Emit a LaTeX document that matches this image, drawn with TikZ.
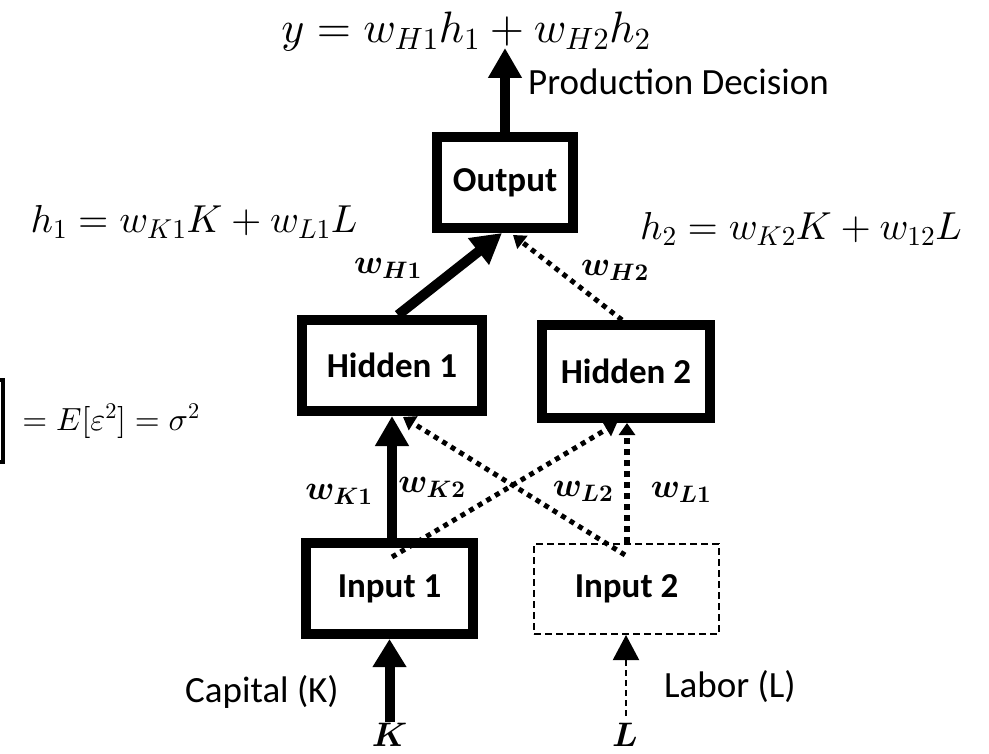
\documentclass[tikz,border=0pt]{standalone}
\usepackage{amsmath}
\usepackage{fontspec}
\DeclareFontShape{OML}{cmm}{m}{it}{<->cmmi10}{}
\DeclareFontShape{OML}{cmm}{b}{it}{<->cmmib10}{}
\DeclareFontShape{OT1}{cmr}{m}{n}{<->cmr10}{}
\DeclareFontShape{OT1}{cmr}{bx}{n}{<->cmbx10}{}
\DeclareFontShape{OMS}{cmsy}{m}{n}{<->cmsy10}{}
\DeclareFontShape{OMS}{cmsy}{b}{n}{<->cmbsy10}{}
\newfontfamily\calibri{Carlito}
\usetikzlibrary{arrows.meta,calc}
\tikzset{
  boxthick/.style={draw, line width=10pt, rectangle, inner sep=0pt,
    font=\calibri\bfseries\fontsize{35}{40}\selectfont},
  boxdash/.style={draw, line width=2pt, dash pattern=on 7pt off 4pt, rectangle, inner sep=0pt,
    font=\calibri\bfseries\fontsize{35}{40}\selectfont},
  solidarrow/.style={line width=10pt, -{Triangle[width=32pt,length=30pt]}},
  dotarrow/.style={line width=5pt, dash pattern=on 5pt off 5pt, -{Triangle[width=16pt,length=12pt]}},
  dasharrow/.style={line width=2pt, dash pattern=on 6pt off 4pt, -{Triangle[width=26pt,length=25pt]}},
  wlabel/.style={inner sep=0pt, font=\fontsize{34}{38}\selectfont},
  plainlabel/.style={inner sep=0pt, font=\calibri\fontsize{37}{42}\selectfont},
  eqlabel/.style={inner sep=0pt, font=\fontsize{39}{46}\selectfont},
}
\begin{document}
\begin{tikzpicture}[x=1pt,y=-1pt]
\useasboundingbox[fill=white] (0,0) rectangle (989,754);

% boxes
\node[boxthick, minimum width=136pt, minimum height=91pt] (Out) at (505,182.5) {Output};
\node[boxthick, minimum width=180pt, minimum height=91pt] (H1) at (392,365.5) {Hidden 1};
\node[boxthick, minimum width=168pt, minimum height=93pt] (H2) at (626,371.5) {Hidden 2};
\node[boxthick, minimum width=167pt, minimum height=91pt] (In1) at (389.5,588.5) {Input 1};
\node[boxdash, minimum width=185pt, minimum height=90pt] (In2) at (626.5,589) {Input 2};

% free ends
\coordinate (ytop) at (505,48);
\coordinate (Kbot) at (389.5,722);
\coordinate (Lbot) at (626,716);
\coordinate (K2start) at (392,557);
\coordinate (L2start) at (625,555);

% formulas
\node[inner sep=0pt, anchor=base, font=\fontsize{44}{50}\selectfont] (yeq) at (466,43) {$y = w_{H1}h_1 + w_{H2}h_2$};
\node[plainlabel, anchor=base west] (prod) at (528,95) {Production Decision};
\node[eqlabel, anchor=base] (h1eq) at (194,233) {$h_1 = w_{K1}K + w_{L1}L$};
\node[eqlabel, anchor=base] (h2eq) at (801,240) {$h_2 = w_{K2}K + w_{12}L$};
\node[inner sep=0pt, anchor=base, font=\fontsize{32}{38}\selectfont] (sig) at (111,430) {$= E[\varepsilon^2] = \sigma^2$};
\draw[line width=3.5pt] (-6,380) -- (3,380) -- (3,462) -- (-6,462);

% connectors
\draw[solidarrow] (Out.north) -- (ytop);
\draw[solidarrow] ($(H1.north)+(6,0)$) -- ($(Out.south)+(-3,0)$);
\draw[dotarrow] ($(H2.north)+(-4,0)$) -- ($(Out.south)+(8,2)$);
\draw[solidarrow] (In1.north -| 392,0) -- (H1.south -| 392,0);
\draw[dotarrow] (K2start) -- ($(H2.south)+(-9,0)$);
\draw[dotarrow] (L2start) -- ($(H1.south)+(11,1)$);
\draw[dotarrow, line width=6pt, dash pattern=on 6pt off 5pt] (In2.north -| 627,0) -- (H2.south -| 627,0);
\draw[solidarrow, -{Triangle[width=32pt,length=28pt]}] (Kbot) -- (In1.south);
\draw[dasharrow] (Lbot) -- (In2.south -| Lbot);

% weight labels
\node[wlabel] (wH1) at (388,268) {$\boldsymbol{w_{H1}}$};
\node[wlabel] (wH2) at (615,270) {$\boldsymbol{w_{H2}}$};
\node[wlabel] (wK1) at (339,494) {$\boldsymbol{w_{K1}}$};
\node[wlabel] (wK2) at (432,487) {$\boldsymbol{w_{K2}}$};
\node[wlabel] (wL2) at (583,491) {$\boldsymbol{w_{L2}}$};
\node[wlabel] (wL1) at (681,492) {$\boldsymbol{w_{L1}}$};

% input labels
\node[plainlabel, anchor=base] (cap) at (262,702) {Capital (K)};
\node[plainlabel, anchor=base west] (lab) at (664,697) {Labor (L)};
\node[wlabel, anchor=base] (Klab) at (389.5,746) {$\boldsymbol{K}$};
\node[wlabel, anchor=base] (Llab) at (625,746) {$\boldsymbol{L}$};
\end{tikzpicture}
\end{document}
